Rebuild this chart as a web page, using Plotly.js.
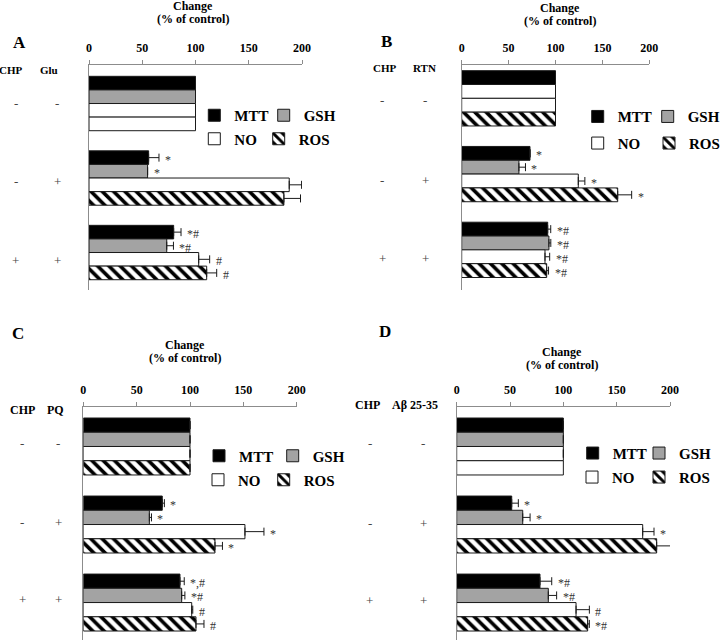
<!DOCTYPE html>
<html><head><meta charset="utf-8">
<script src="https://cdn.plot.ly/plotly-3.0.1.min.js"></script>
<style>html,body{margin:0;padding:0;background:#fff}#chart{width:720px;height:641px}</style>
</head><body><div id="chart"></div>
<script>
// ---------------- DATA ----------------
const seriesNames = ['MTT', 'GSH', 'NO', 'ROS'];
const xTicks = [0, 50, 100, 150, 200];
const xTitle1 = 'Change';
const xTitle2 = '(% of control)';

// Panel A : CHP + glutamate
const chpA = ['-', '-', '+'];
const gluA = ['-', '+', '+'];
const mttA = [100, 56, 79.5];
const gshA = [100, 55, 73];
const noA  = [100, 188, 103];
const rosA = [100, 183, 110.5];
const mttErrA = [null, 9.7, 6.9];
const gshErrA = [null, null, 6.3];
const noErrA  = [null, 11.6, 10.3];
const rosErrA = [null, 15.6, 9.4];
const mttSigA = ['', '*', '*#'];
const gshSigA = ['', '*', '*#'];
const noSigA  = ['', '', '#'];
const rosSigA = ['', '', '#'];

// Panel B : CHP + RTN
const chpB = ['-', '-', '+'];
const rtnB = ['-', '+', '+'];
const mttB = [100, 72.8, 91.7];
const gshB = [100, 61, 93];
const noB  = [100, 124.3, 88.8];
const rosB = [100, 166.3, 90.6];
const mttErrB = [null, null, 3.2];
const gshErrB = [null, 7, 2];
const noErrB  = [null, 7, 5];
const rosErrB = [null, 14.9, 2];
const mttSigB = ['', '*', '*#'];
const gshSigB = ['', '*', '*#'];
const noSigB  = ['', '*', '*#'];
const rosSigB = ['', '*', '*#'];

// Panel C : CHP + PQ
const chpC = ['-', '-', '+'];
const pqC  = ['-', '+', '+'];
const mttC = [100, 74, 90.6];
const gshC = [100, 61.9, 92.2];
const noC  = [100, 151.5, 101.6];
const rosC = [100, 123.4, 105.6];
const mttErrC = [null, 2, 4];
const gshErrC = [null, 2, 3];
const noErrC  = [null, 17.8, 1];
const rosErrC = [null, 7, 7.5];
const mttSigC = ['', '*', '*,#'];
const gshSigC = ['', '*', '*#'];
const noSigC  = ['', '*', '#'];
const rosSigC = ['', '*', '#'];

// Panel D : CHP + Aβ 25-35
const chpD = ['-', '-', '+'];
const abD  = ['-', '+', '+'];
const mttD = [100, 51.6, 78.1];
const gshD = [100, 61.9, 85.9];
const noD  = [100, 174.4, 111.9];
const rosD = [100, 187.5, 122.8];
const mttErrD = [null, 6.2, 11];
const gshErrD = [null, 6.9, 7.8];
const noErrD  = [null, 10.6, 12.5];
const rosErrD = [null, 14, 1.6];
const mttSigD = ['', '*', '*#'];
const gshSigD = ['', '*', '*#'];
const noSigD  = ['', '*', '#'];
const rosSigD = ['', '*', '*#'];

// ---------------- STYLE / LAYOUT ----------------
const W = 720, H = 641;
const px = v => v / W, py = v => 1 - v / H;
const SERIF = '"Liberation Serif", "Times New Roman", serif';
const fills = {MTT: '#000000', GSH: '#a3a3a3', NO: '#ffffff', ROS: '#ffffff'};
const hatch = {MTT: '', GSH: '', NO: '', ROS: '\\'};
const AXC = '#8c8c8c';
const BARGAP = 0.27;
const slot = (1 - BARGAP) / 4;

const panels = [
  {id: 'A', treat: 'Glu', chp: chpA, trt: gluA,
   vals: [mttA, gshA, noA, rosA], errs: [mttErrA, gshErrA, noErrA, rosErrA], sigs: [mttSigA, gshSigA, noSigA, rosSigA],
   plain: {ROS: [0]}, box: [89, 302, 65, 290], yr: [2.503, -0.517],
   letter: [19, 43], title: [193, 6, 19], hdr: {size: 11, y: 69.7, x: [11, 49]},
   marks: {x: [15.5, 57], yshift: [0, -3, -8]},
   legend: [[208.3, 115.5], [277.7, 115.5], [208.3, 139], [272.7, 139]]},
  {id: 'B', treat: 'RTN', chp: chpB, trt: rtnB,
   vals: [mttB, gshB, noB, rosB], errs: [mttErrB, gshErrB, noErrB, rosErrB], sigs: [mttSigB, gshSigB, noSigB, rosSigB],
   plain: {GSH: [0]}, box: [461.7, 649.3, 65, 290], yr: [2.53, -0.44],
   letter: [386, 42], title: [560, 8, 21], hdr: {size: 11, y: 68.3, x: [385, 424]},
   marks: {x: [382, 425], yshift: [-2, -6, -9]},
   legend: [[591.7, 116.7], [661.7, 116.7], [591.7, 143.3], [663, 143.3]]},
  {id: 'C', treat: 'PQ', chp: chpC, trt: pqC,
   vals: [mttC, gshC, noC, rosC], errs: [mttErrC, gshErrC, noErrC, rosErrC], sigs: [mttSigC, gshSigC, noSigC, rosSigC],
   plain: {}, box: [83.3, 296.7, 406.7, 640], yr: [2.48, -0.51],
   letter: [18.3, 333.3], title: [185, 345, 358], hdr: {size: 12, y: 410, x: [22.5, 55.7]},
   marks: {x: [22, 58], yshift: [3, 2, 3]},
   legend: [[213, 456], [286.7, 456], [212, 480], [277.7, 480]]},
  {id: 'D', treat: 'Aβ 25-35', chp: chpD, trt: abD,
   vals: [mttD, gshD, noD, rosD], errs: [mttErrD, gshErrD, noErrD, rosErrD], sigs: [mttSigD, gshSigD, noSigD, rosSigD],
   plain: {ROS: [0]}, box: [456.7, 670, 406.7, 640], yr: [2.48, -0.51],
   letter: [385, 331.7], title: [561.7, 351.7, 365], hdr: {size: 12, y: 405, x: [367.5, 415]},
   marks: {x: [370, 423], yshift: [3, 1, 2]},
   legend: [[586.7, 453.3], [653, 453.3], [586, 477.3], [653, 477.3]]}
];

const data = [];
const annotations = [];
const layout = {
  width: W, height: H,
  margin: {l: 0, r: 0, t: 0, b: 0, autoexpand: false},
  paper_bgcolor: '#ffffff', plot_bgcolor: 'rgba(0,0,0,0)',
  barmode: 'group', bargap: BARGAP, bargroupgap: 0,
  showlegend: true,
  font: {family: SERIF, color: '#000'},
  annotations: annotations
};

function txt(x, y, text, size, bold, color) {
  return {xref: 'paper', yref: 'paper', x: px(x), y: py(y), text: text, showarrow: false,
    xanchor: 'center', yanchor: 'middle',
    font: {family: SERIF, size: size, color: color || '#000', weight: bold ? 700 : 400}};
}

const errStyle = {type: 'data', symmetric: false, color: '#1a1a1a', thickness: 1, width: 4};

panels.forEach((p, pi) => {
  const n = pi === 0 ? '' : String(pi + 1);
  const xa = 'x' + n, ya = 'y' + n;
  const cats = p.chp.map((c, i) => 'CHP ' + c + ' / ' + p.treat + ' ' + p.trt[i]);

  seriesNames.forEach((s, k) => {
    const vals = p.vals[k];
    const errs = p.errs[k];
    const plainIdx = p.plain[s] || [];
    const isPlain = i => plainIdx.includes(i);
    const idx = 4 * pi + k + 1;
    const lg = idx === 1 ? 'legend' : 'legend' + idx;
    const marker = {color: fills[s], line: {color: '#1a1a1a', width: 1}};
    if (hatch[s]) marker.pattern = {shape: hatch[s], fgcolor: '#000000', bgcolor: '#ffffff',
      size: 8, solidity: 0.45, fillmode: 'replace'};
    data.push({
      type: 'bar', orientation: 'h', name: s,
      x: vals.map((v, i) => isPlain(i) ? null : v), y: cats, xaxis: xa, yaxis: ya,
      marker: marker, offsetgroup: s, legend: lg, legendgroup: p.id + s, showlegend: true,
      error_x: Object.assign({array: errs.map((e, i) => isPlain(i) ? null : e),
        arrayminus: vals.map(() => 0)}, errStyle),
      hovertemplate: s + ': %{x}<extra></extra>'
    });
    if (plainIdx.length) {
      // untreated-control bar of this series drawn without fill/hatch, as in the figure
      data.push({
        type: 'bar', orientation: 'h', name: s,
        x: vals.map((v, i) => isPlain(i) ? v : null), y: cats, xaxis: xa, yaxis: ya,
        marker: {color: '#ffffff', line: {color: '#1a1a1a', width: 1}},
        offsetgroup: s, legend: lg, legendgroup: p.id + s, showlegend: false,
        hovertemplate: s + ': %{x}<extra></extra>'
      });
    }
    // legend entry (one legend per item so each can sit where the figure has it)
    const L = p.legend[k];
    layout[lg] = {
      x: px(L[0] - 14), y: py(L[1]), xref: 'paper', yref: 'paper', xanchor: 'left', yanchor: 'middle',
      orientation: 'h', traceorder: 'normal', bgcolor: 'rgba(0,0,0,0)', borderwidth: 0,
      font: {family: SERIF, size: 15, color: '#000', weight: 700}
    };
    // significance marks
    p.sigs[k].forEach((t, i) => {
      if (!t) return;
      const e = errs[i] || 0;
      annotations.push({xref: xa, yref: ya, x: vals[i] + e, y: i + (k - 1.5) * slot, text: t,
        showarrow: false, xanchor: 'left', yanchor: 'middle', xshift: 4, yshift: -2,
        font: {family: SERIF, size: 12, color: '#333'}});
    });
  });

  // axes
  layout['xaxis' + n] = {
    domain: [px(p.box[0]), px(p.box[1])], anchor: ya, side: 'top', range: [0, 200],
    tickvals: xTicks, ticktext: xTicks.map(String),
    tickfont: {family: SERIF, size: 12, color: '#000', weight: 700},
    showline: true, linecolor: AXC, linewidth: 1, ticks: 'outside', ticklen: 4, tickcolor: AXC,
    ticklabelstandoff: 3, showgrid: false, zeroline: false, fixedrange: true
  };
  layout['yaxis' + n] = {
    domain: [py(p.box[3]), py(p.box[2])], anchor: xa, type: 'category', range: p.yr,
    showline: true, linecolor: AXC, linewidth: 1, showticklabels: false, ticks: '',
    showgrid: false, zeroline: false, fixedrange: true
  };

  // panel letter, axis title, row headers, row marks
  annotations.push(txt(p.letter[0], p.letter[1], p.id, 17, true));
  annotations.push(txt(p.title[0], p.title[1], xTitle1, 12, true));
  annotations.push(txt(p.title[0], p.title[2], xTitle2, 12, true));
  annotations.push(txt(p.hdr.x[0], p.hdr.y, 'CHP', p.hdr.size, true));
  annotations.push(txt(p.hdr.x[1], p.hdr.y, p.treat, p.hdr.size, true));
  cats.forEach((c, i) => {
    [p.chp[i], p.trt[i]].forEach((m, col) => {
      annotations.push({xref: 'paper', yref: ya, x: px(p.marks.x[col]), y: i, text: m, showarrow: false,
        xanchor: 'center', yanchor: 'middle', yshift: p.marks.yshift[i],
        font: {family: SERIF, size: 13, color: '#444'}});
    });
  });
});

Plotly.newPlot('chart', data, layout, {displayModeBar: false, responsive: false});
</script>
</body></html>
